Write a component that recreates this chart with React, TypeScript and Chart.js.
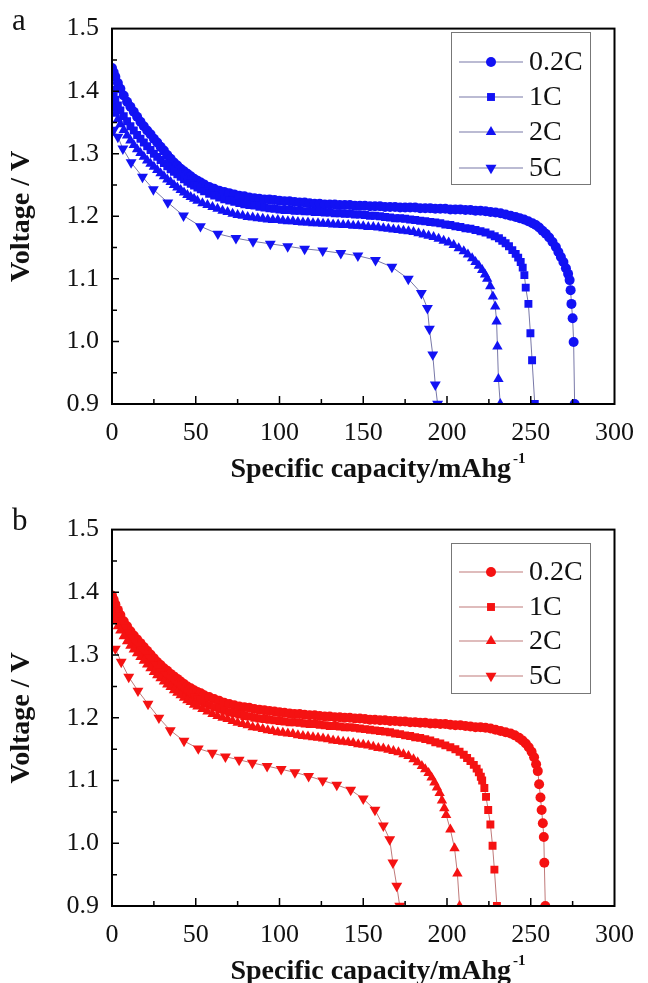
import React, { useEffect, useRef } from 'react';
import { Chart, registerables } from 'chart.js';

Chart.register(...registerables);

// ---------- Data (capacity mAh/g, voltage V) ----------
const rateLabels = ['0.2C', '1C', '2C', '5C'];
const xTickValues = [0, 50, 100, 150, 200, 250, 300];
const xMinorTicks = [25, 75, 125, 175, 225, 275];
const yMajorTicks = [1.0, 1.1, 1.2, 1.3, 1.4];
const yMinorTicks = [0.95, 1.05, 1.15, 1.25, 1.35, 1.45];

// Panel a
const a02: number[][] = [[0,1.437],[1,1.43],[2,1.423],[3.5,1.413],[5,1.404],[7,1.393],[9,1.383],[11,1.375],[13,1.367],[15,1.359],[17,1.351],[19,1.344],[21,1.337],[23,1.331],[25,1.324],[27,1.318],[29,1.311],[31,1.305],[33,1.298],[35,1.292],[37,1.286],[39,1.281],[41,1.276],[43,1.272],[45,1.268],[47,1.264],[49,1.26],[51,1.257],[53,1.254],[55,1.251],[58,1.247],[61,1.244],[64,1.241],[67,1.239],[70,1.237],[73,1.235],[76,1.233],[79,1.232],[82,1.23],[85,1.229],[88,1.228],[91,1.227],[94,1.227],[97,1.226],[100,1.225],[103,1.224],[106,1.224],[109,1.223],[112,1.222],[115,1.222],[118,1.221],[121,1.22],[124,1.22],[127,1.219],[130,1.219],[133,1.219],[136,1.218],[139,1.218],[142,1.218],[145,1.217],[148,1.217],[151,1.217],[154,1.216],[157,1.216],[160,1.216],[163,1.215],[166,1.215],[169,1.215],[172,1.214],[175,1.214],[178,1.214],[181,1.214],[184,1.213],[187,1.213],[190,1.213],[193,1.212],[196,1.212],[199,1.212],[202,1.211],[205,1.211],[208,1.211],[211,1.21],[214,1.21],[217,1.209],[220,1.209],[223,1.208],[226,1.207],[229,1.206],[232,1.205],[235,1.203],[238,1.201],[241,1.199],[243.5,1.197],[246,1.195],[248.5,1.192],[251,1.189],[253,1.186],[255,1.182],[257,1.177],[259,1.172],[261,1.166],[263,1.159],[265,1.151],[266.5,1.143],[268,1.135],[269.5,1.127],[271,1.117],[272.3,1.108],[273.2,1.098],[273.8,1.082],[274.3,1.06],[275,1.037],[275.6,0.999],[276.2,0.9]];
const a1: number[][] = [[0,1.402],[1,1.394],[2,1.386],[3.5,1.377],[5,1.369],[7,1.36],[9,1.352],[11,1.344],[13,1.337],[15,1.33],[17,1.324],[19,1.318],[21,1.312],[23,1.306],[25,1.3],[27,1.295],[29,1.29],[31,1.285],[33,1.28],[35,1.275],[37,1.271],[39,1.267],[41,1.263],[43,1.259],[45,1.255],[47,1.252],[49,1.249],[51,1.246],[53,1.243],[55,1.24],[58,1.236],[61,1.233],[64,1.23],[67,1.227],[70,1.225],[73,1.223],[76,1.221],[79,1.219],[82,1.218],[85,1.217],[88,1.215],[91,1.214],[94,1.213],[97,1.212],[100,1.211],[103,1.21],[106,1.21],[109,1.209],[112,1.209],[115,1.208],[118,1.208],[121,1.207],[124,1.207],[127,1.206],[130,1.206],[133,1.205],[136,1.205],[139,1.204],[142,1.204],[145,1.203],[148,1.203],[151,1.202],[154,1.201],[157,1.201],[160,1.2],[163,1.199],[166,1.198],[169,1.197],[172,1.197],[175,1.196],[178,1.195],[181,1.194],[184,1.193],[187,1.192],[190,1.191],[193,1.19],[196,1.189],[199,1.187],[202,1.186],[205,1.184],[208,1.183],[211,1.181],[214,1.18],[217,1.178],[220,1.176],[223,1.174],[226,1.171],[228.5,1.168],[231,1.165],[233,1.161],[235,1.157],[237,1.152],[239,1.146],[241,1.14],[242.5,1.134],[244,1.127],[245.2,1.118],[246.2,1.106],[247,1.086],[248.6,1.06],[249.8,1.013],[250.8,0.97],[252.4,0.9]];
const a2: number[][] = [[0,1.38],[1,1.372],[2,1.364],[3.5,1.355],[5,1.347],[7,1.338],[9,1.329],[11,1.321],[13,1.314],[15,1.307],[17,1.301],[19,1.295],[21,1.289],[23,1.284],[25,1.279],[27,1.274],[29,1.269],[31,1.264],[33,1.259],[35,1.255],[37,1.25],[39,1.246],[41,1.242],[43,1.238],[45,1.234],[47,1.231],[49,1.228],[51,1.225],[54,1.221],[57,1.218],[60,1.215],[63,1.212],[66,1.209],[69,1.207],[72,1.204],[75,1.202],[78,1.201],[81,1.199],[84,1.198],[87,1.197],[90,1.196],[93,1.195],[96,1.194],[99,1.194],[102,1.193],[105,1.192],[108,1.192],[111,1.191],[114,1.19],[117,1.19],[120,1.189],[123,1.189],[126,1.188],[129,1.188],[132,1.187],[135,1.187],[138,1.186],[141,1.186],[144,1.185],[147,1.185],[150,1.184],[153,1.183],[156,1.183],[159,1.182],[162,1.181],[165,1.18],[168,1.179],[171,1.178],[174,1.177],[177,1.176],[180,1.175],[183,1.173],[186,1.171],[189,1.169],[192,1.167],[195,1.164],[198,1.161],[201,1.158],[204,1.154],[207,1.149],[210,1.144],[212.5,1.139],[215,1.133],[217,1.127],[219,1.121],[221,1.114],[222.7,1.107],[224,1.1],[225.8,1.088],[227.4,1.072],[228.8,1.056],[229.6,1.032],[230.1,0.992],[230.7,0.94],[231.8,0.9]];
const a5: number[][] = [[1,1.338],[3.5,1.327],[6.5,1.308],[11.4,1.286],[18.2,1.263],[24.7,1.243],[33.3,1.222],[42.7,1.201],[52.8,1.184],[63.2,1.172],[74,1.165],[84.2,1.16],[94.5,1.156],[104.9,1.152],[115,1.148],[125.8,1.145],[136.6,1.141],[146.8,1.137],[157.3,1.13],[167.1,1.119],[176.9,1.1],[184.7,1.077],[188.3,1.053],[189.5,1.02],[191.5,0.979],[193,0.931],[194.4,0.9]];

// Panel b
const b02: number[][] = [[0,1.395],[1,1.388],[2,1.381],[3.5,1.372],[5,1.364],[7,1.354],[9,1.346],[11,1.338],[13,1.331],[15,1.325],[17,1.319],[19,1.313],[21,1.307],[23,1.301],[25,1.295],[27,1.289],[29,1.284],[31,1.279],[33,1.275],[35,1.27],[37,1.266],[39,1.262],[41,1.258],[43,1.254],[45,1.25],[47,1.247],[49,1.244],[51,1.241],[53,1.239],[55,1.236],[58,1.233],[61,1.23],[64,1.227],[67,1.224],[70,1.222],[73,1.22],[76,1.218],[79,1.217],[82,1.216],[85,1.214],[88,1.213],[91,1.212],[94,1.211],[97,1.21],[100,1.209],[103,1.208],[106,1.207],[109,1.206],[112,1.206],[115,1.205],[118,1.204],[121,1.204],[124,1.203],[127,1.202],[130,1.202],[133,1.201],[136,1.201],[139,1.2],[142,1.2],[145,1.199],[148,1.199],[151,1.198],[154,1.197],[157,1.197],[160,1.196],[163,1.196],[166,1.195],[169,1.195],[172,1.194],[175,1.194],[178,1.193],[181,1.193],[184,1.192],[187,1.192],[190,1.191],[193,1.191],[196,1.19],[199,1.19],[202,1.189],[205,1.188],[208,1.188],[211,1.187],[214,1.186],[217,1.185],[220,1.185],[223,1.184],[226,1.183],[229,1.181],[232,1.179],[235,1.177],[238,1.175],[240.5,1.172],[243,1.168],[245,1.164],[247,1.159],[248.8,1.153],[250.5,1.146],[252,1.137],[253.2,1.126],[254.2,1.115],[255,1.094],[255.8,1.073],[256.5,1.053],[257.2,1.032],[257.8,1.01],[258.1,0.969],[258.7,0.9]];
const b1: number[][] = [[0,1.385],[1,1.377],[2,1.37],[3.5,1.361],[5,1.353],[7,1.343],[9,1.335],[11,1.327],[13,1.32],[15,1.313],[17,1.307],[19,1.301],[21,1.295],[23,1.289],[25,1.283],[27,1.278],[29,1.272],[31,1.267],[33,1.262],[35,1.258],[37,1.253],[39,1.249],[41,1.245],[43,1.241],[45,1.238],[47,1.235],[49,1.232],[51,1.229],[53,1.226],[55,1.223],[58,1.22],[61,1.217],[64,1.214],[67,1.211],[70,1.209],[73,1.207],[76,1.205],[79,1.203],[82,1.202],[85,1.2],[88,1.199],[91,1.198],[94,1.197],[97,1.196],[100,1.195],[103,1.194],[106,1.193],[109,1.193],[112,1.192],[115,1.191],[118,1.19],[121,1.19],[124,1.189],[127,1.188],[130,1.187],[133,1.187],[136,1.186],[139,1.185],[142,1.185],[145,1.184],[148,1.183],[151,1.182],[154,1.181],[157,1.18],[160,1.179],[163,1.178],[166,1.177],[169,1.175],[172,1.174],[175,1.172],[178,1.171],[181,1.169],[184,1.168],[187,1.166],[190,1.164],[193,1.161],[196,1.159],[199,1.156],[202,1.153],[205,1.15],[207.5,1.146],[210,1.141],[212,1.136],[214,1.131],[216,1.125],[217.7,1.119],[219,1.113],[220.2,1.106],[221,1.1],[222.3,1.088],[223.3,1.074],[224.6,1.053],[225.9,1.03],[227.2,0.996],[228.3,0.958],[229.8,0.9]];
const b2: number[][] = [[0,1.37],[1,1.362],[2,1.355],[3.5,1.346],[5,1.339],[7,1.33],[9,1.322],[11,1.315],[13,1.309],[15,1.303],[17,1.297],[19,1.291],[21,1.285],[23,1.279],[25,1.273],[27,1.268],[29,1.263],[31,1.258],[33,1.253],[35,1.249],[37,1.244],[39,1.24],[41,1.236],[43,1.232],[45,1.228],[47,1.225],[49,1.221],[51,1.218],[54,1.214],[57,1.21],[60,1.206],[63,1.203],[66,1.2],[69,1.198],[72,1.195],[75,1.192],[78,1.19],[81,1.188],[84,1.185],[87,1.184],[90,1.182],[93,1.18],[96,1.179],[99,1.177],[102,1.176],[105,1.175],[108,1.174],[111,1.172],[114,1.171],[117,1.17],[120,1.169],[123,1.168],[126,1.167],[129,1.166],[132,1.164],[135,1.163],[138,1.162],[141,1.161],[144,1.16],[147,1.158],[150,1.157],[153,1.156],[156,1.154],[159,1.152],[162,1.151],[165,1.149],[168,1.147],[171,1.145],[174,1.142],[177,1.139],[180,1.134],[182.5,1.129],[185,1.123],[187,1.118],[189,1.112],[190.8,1.105],[192.5,1.097],[194,1.089],[195.6,1.08],[197,1.068],[198.4,1.056],[199.5,1.045],[202,1.022],[204.5,0.992],[206.2,0.952],[207.5,0.9]];
const b5: number[][] = [[2,1.31],[5.5,1.289],[10,1.265],[15.5,1.243],[21.5,1.222],[28,1.2],[34.8,1.18],[43,1.163],[51.5,1.151],[59.9,1.144],[67.7,1.138],[75.9,1.133],[83.8,1.128],[92.6,1.123],[101,1.118],[109.2,1.113],[117.4,1.107],[125.8,1.1],[134.2,1.093],[142.5,1.085],[150,1.071],[157,1.053],[162,1.028],[165.8,1.006],[167.7,0.969],[170,0.932],[171.8,0.9]];

// ---------- Styling ----------
const FONT = "'Liberation Serif', 'Times New Roman', serif";
const markerStyles = [
  { style: 'circle', r: 5, rot: 0 },
  { style: 'rect', r: 5.6, rot: 0 },
  { style: 'triangle', r: 6, rot: 0 },
  { style: 'triangle', r: 6.3, rot: 180 },
];

type PanelCfg = {
  letter: string;
  top: number;
  height: number;
  plotTop: number;
  plotBottom: number;
  series: number[][][];
  marker: string;
  line: string;
  legendTop: number;
  legendRows: number[];
  legendBottom: number;
};

function drawMarker(ctx: CanvasRenderingContext2D, style: string, rot: number, x: number, y: number, r: number) {
  ctx.beginPath();
  if (style === 'circle') {
    ctx.arc(x, y, r, 0, Math.PI * 2);
  } else if (style === 'rect') {
    const s = r * Math.SQRT1_2;
    ctx.rect(x - s, y - s, 2 * s, 2 * s);
  } else {
    const d = rot === 180 ? -1 : 1;
    ctx.moveTo(x, y - d * r);
    ctx.lineTo(x + 0.866 * r, y + d * 0.5 * r);
    ctx.lineTo(x - 0.866 * r, y + d * 0.5 * r);
    ctx.closePath();
  }
  ctx.fill();
}

function makeDecor(cfg: PanelCfg) {
  return {
    id: 'decor' + cfg.letter,
    afterDatasetsDraw(chart: any) {
      const { ctx, chartArea: a, scales } = chart;
      const xs = scales.x;
      const ys = scales.y;
      ctx.save();
      ctx.strokeStyle = '#000';
      ctx.lineWidth = 1.5;
      ctx.beginPath();
      xTickValues.slice(1, -1).forEach((v) => {
        const px = xs.getPixelForValue(v);
        ctx.moveTo(px, a.bottom);
        ctx.lineTo(px, a.bottom - 8);
      });
      xMinorTicks.forEach((v) => {
        const px = xs.getPixelForValue(v);
        ctx.moveTo(px, a.bottom);
        ctx.lineTo(px, a.bottom - 5);
      });
      yMajorTicks.forEach((v) => {
        const py = ys.getPixelForValue(v);
        ctx.moveTo(a.left, py);
        ctx.lineTo(a.left + 7, py);
      });
      yMinorTicks.forEach((v) => {
        const py = ys.getPixelForValue(v);
        ctx.moveTo(a.left, py);
        ctx.lineTo(a.left + 5, py);
      });
      ctx.stroke();
      ctx.lineWidth = 2;
      ctx.strokeRect(a.left, a.top, a.right - a.left, a.bottom - a.top);

      // legend
      const lx0 = 451, lx1 = 590;
      ctx.fillStyle = '#fff';
      ctx.fillRect(lx0, cfg.legendTop, lx1 - lx0, cfg.legendBottom - cfg.legendTop);
      ctx.lineWidth = 1;
      ctx.strokeStyle = '#777';
      ctx.strokeRect(lx0 + 0.5, cfg.legendTop + 0.5, lx1 - lx0, cfg.legendBottom - cfg.legendTop);
      rateLabels.forEach((lab, i) => {
        const y = cfg.legendRows[i];
        ctx.strokeStyle = cfg.line;
        ctx.lineWidth = 1.2;
        ctx.beginPath();
        ctx.moveTo(459, y);
        ctx.lineTo(523, y);
        ctx.stroke();
        ctx.fillStyle = cfg.marker;
        const m = markerStyles[i];
        drawMarker(ctx, m.style, m.rot, 491, y, m.r);
        ctx.fillStyle = '#111';
        ctx.font = `28px ${FONT}`;
        ctx.textAlign = 'left';
        ctx.textBaseline = 'middle';
        ctx.fillText(lab, 529, y + 1);
      });

      // x title with superscript
      ctx.fillStyle = '#111';
      ctx.textBaseline = 'alphabetic';
      const main = 'Specific capacity/mAhg';
      const sup = '-1';
      ctx.font = `bold 28px ${FONT}`;
      const wMain = ctx.measureText(main).width;
      ctx.font = `bold 15px ${FONT}`;
      const wSup = ctx.measureText(sup).width;
      const cx = 378;
      const startX = cx - (wMain + wSup + 2) / 2;
      const baseY = a.bottom + 73;
      ctx.font = `bold 28px ${FONT}`;
      ctx.textAlign = 'left';
      ctx.fillText(main, startX, baseY);
      ctx.font = `bold 15px ${FONT}`;
      ctx.fillText(sup, startX + wMain + 2, baseY - 14);

      // panel letter
      ctx.font = `31px ${FONT}`;
      ctx.fillText(cfg.letter, 12, cfg.letter === 'a' ? 30 : 29);
      ctx.restore();
    },
  };
}

function Panel({ cfg }: { cfg: PanelCfg }) {
  const ref = useRef<HTMLCanvasElement>(null);
  useEffect(() => {
    const canvas = ref.current;
    if (!canvas) return;
    const datasets = cfg.series.map((pts, i) => ({
      label: rateLabels[i],
      data: pts.map(([x, y]) => ({ x, y })),
      showLine: true,
      borderColor: cfg.line,
      borderWidth: 1,
      backgroundColor: cfg.marker,
      pointBackgroundColor: cfg.marker,
      pointBorderColor: cfg.marker,
      pointBorderWidth: 0,
      pointStyle: markerStyles[i].style,
      pointRadius: markerStyles[i].r,
      pointRotation: markerStyles[i].rot,
      tension: 0,
      order: 4 - i,
    }));
    const chart = new Chart(canvas, {
      type: 'scatter',
      data: { datasets },
      options: {
        animation: false,
        responsive: false,
        events: [],
        layout: { padding: { top: cfg.plotTop, right: 25, left: 0, bottom: 0 } },
        plugins: { legend: { display: false }, tooltip: { enabled: false } },
        scales: {
          x: {
            type: 'linear',
            min: 0,
            max: 300,
            position: 'bottom',
            afterBuildTicks: (s: any) => {
              s.ticks = xTickValues.map((v) => ({ value: v }));
            },
            ticks: {
              padding: 14,
              color: '#111',
              font: { family: FONT, size: 26 },
              maxRotation: 0,
              autoSkip: false,
              callback: (v: any) => String(v),
            },
            grid: { display: false, drawTicks: false },
            border: { display: false },
            afterFit: (s: any) => {
              s.height = cfg.height - cfg.plotBottom;
            },
          },
          y: {
            type: 'linear',
            min: 0.9,
            max: 1.5,
            ticks: {
              stepSize: 0.1,
              padding: 13,
              color: '#111',
              font: { family: FONT, size: 26 },
              autoSkip: false,
              callback: (v: any) => Number(v).toFixed(1),
            },
            grid: { display: false, drawTicks: false },
            border: { display: false },
            title: {
              display: true,
              text: 'Voltage / V',
              color: '#111',
              font: { family: FONT, size: 28, weight: 'bold' },
              padding: { top: 5, bottom: 0 },
            },
            afterFit: (s: any) => {
              s.width = 112;
            },
          },
        },
      } as any,
      plugins: [makeDecor(cfg) as any],
    });
    return () => chart.destroy();
  }, []);
  return (
    <canvas
      ref={ref}
      width={648}
      height={cfg.height}
      style={{ position: 'absolute', left: 0, top: cfg.top, width: 648, height: cfg.height }}
    />
  );
}

const panelA: PanelCfg = {
  letter: 'a',
  top: 0,
  height: 500,
  plotTop: 26,
  plotBottom: 404,
  series: [a02, a1, a2, a5],
  marker: '#1212f4',
  line: '#7878a8',
  legendTop: 32,
  legendRows: [62, 97, 132, 168],
  legendBottom: 184,
};

const panelB: PanelCfg = {
  letter: 'b',
  top: 501,
  height: 482,
  plotTop: 26,
  plotBottom: 405,
  series: [b02, b1, b2, b5],
  marker: '#f51212',
  line: '#c07a7a',
  legendTop: 42,
  legendRows: [71, 106, 140, 175],
  legendBottom: 192,
};

export default function App() {
  return (
    <div style={{ position: 'absolute', left: 0, top: 0, width: 648, height: 983, background: '#fff' }}>
      <Panel cfg={panelA} />
      <Panel cfg={panelB} />
    </div>
  );
}
